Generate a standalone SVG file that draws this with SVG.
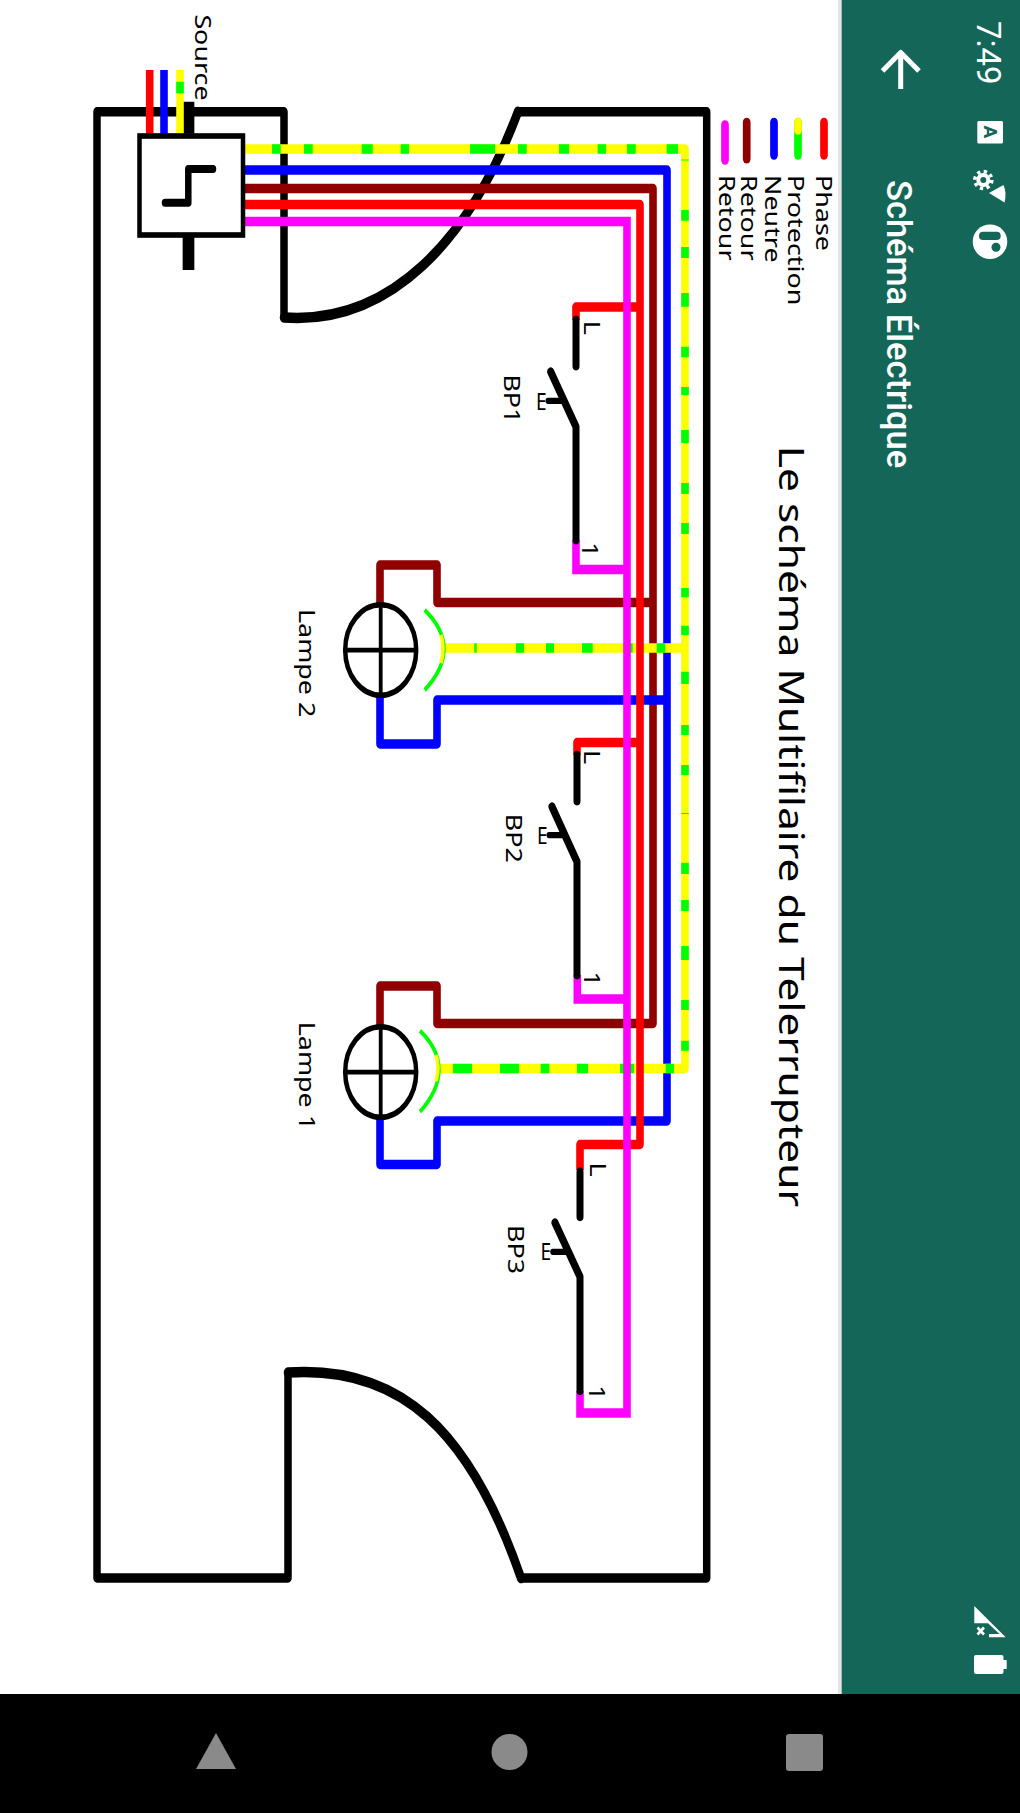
<svg xmlns="http://www.w3.org/2000/svg" width="1020" height="1813" viewBox="0 0 1020 1813">
<style>
text{font-family:"Noto Sans","Open Sans",sans-serif;fill:#000}
.ui{font-family:Roboto,"Noto Sans",sans-serif;fill:#fff}
path{fill:none;stroke-linejoin:round}
.o{stroke:#000;stroke-width:7.5}
.oa{stroke:#000;stroke-width:8.5;stroke-linecap:round}
.w{stroke-width:7.6}
.y{stroke:#ff0}.g{stroke:#0f0}.b{stroke:#00f}.d{stroke:#900000}.r{stroke:#f00}.m{stroke:#f0f;stroke-linejoin:miter}
.s{stroke:#000;stroke-width:7;stroke-linecap:round}
.e{stroke:#000;stroke-width:5;stroke-linecap:round}
.leg{stroke-width:7.7;stroke-linecap:round}
.l{font-size:21.5px}
.lamp{fill:#fff;stroke:#000;stroke-width:4.5}
.x{stroke:#000;stroke-width:3.8}
.arc{stroke-width:3.5}
</style>
<rect width="1020" height="1813" fill="#fff"/>
<g id="chrome">
<rect x="838" y="0" width="4" height="1694" fill="#e4e4e4"/>
<rect x="841.7" y="0" width="178.3" height="1694" fill="#146658"/>
<rect x="0" y="1694" width="1020" height="119" fill="#000"/>
<polygon points="196,1769 236,1769 216,1733" fill="#8a8a8a"/>
<circle cx="509.5" cy="1752" r="18" fill="#8a8a8a"/>
<rect x="786" y="1734" width="37" height="37" rx="3" fill="#8a8a8a"/>
<path d="M900.7 52V89M882.5 71L900.7 52.5L919 71" stroke="#fff" stroke-width="5"/>
<text class="ui" font-size="34.5" font-weight="500" transform="translate(886.5 180) rotate(90)">Schéma Électrique</text>
<text class="ui" font-size="33" transform="translate(976.5 21) rotate(90)">7:49</text>
<rect x="977.3" y="121" width="25.7" height="22.5" rx="1.5" fill="#fff"/>
<text class="ui" font-size="19" font-weight="700" style="fill:#146658" transform="translate(983.5 125.5) rotate(90)">A</text>
<circle cx="983.3" cy="180" r="7" fill="#fff"/>
<circle cx="983.3" cy="180" r="8.5" fill="none" stroke="#fff" stroke-width="3.5" stroke-dasharray="3.3 3.4"/>
<circle cx="983.3" cy="180" r="3" fill="#146658"/>
<path d="M989 193L1003.5 185Q1007 193 1004.5 202.5Z" style="fill:#fff"/>
<circle cx="990" cy="241.7" r="17.3" fill="#fff"/>
<rect x="979" y="231.7" width="21.7" height="8.3" rx="4" fill="#146658"/>
<circle cx="996" cy="247.3" r="4.5" fill="#146658"/>
<polygon points="974.3,1606 1005.7,1637.3 989,1637.3 989,1634 999.5,1634 988,1623.3 974.3,1623.3" fill="#fff"/>
<path d="M977.5 1627.5L984 1634.5M984 1627.5L977.5 1634.5" stroke="#fff" stroke-width="2.6"/>
<rect x="974" y="1655" width="29.5" height="19" rx="2" fill="#fff"/>
<rect x="1003" y="1660" width="3.7" height="9" fill="#fff"/>
</g>
<g id="diagram" transform="scale(1 1.25)">
<g id="outline">
<path class="o" d="M284 254L284 89.4L97 89.4L97 1262.4L288 1262.4L288 1098M521 1262.4L706.7 1262.4L706.7 89.4L518 89.4"/>
<path class="oa" d="M284 254C390 260 470 192 518 89.4M288 1098C400 1092 470 1144 521 1262.4"/>
</g>
<g id="title">
<text font-size="34" transform="translate(779 356.5) rotate(90)">Le schéma Multifilaire du Telerrupteur</text>
</g>
<g id="legend">
<path class="leg m" d="M725 100V128"/>
<path class="leg d" d="M746.7 98V127"/>
<path class="leg b" d="M774 98V124"/>
<path class="leg g" d="M798 98V124"/>
<path class="leg y" d="M798 98V104"/>
<path class="leg r" d="M824 98V124"/>
<text class="l" transform="translate(718.5 140) rotate(90)">Retour</text>
<text class="l" transform="translate(740.5 140) rotate(90)">Retour</text>
<text class="l" transform="translate(765 140) rotate(90)">Neutre</text>
<text class="l" transform="translate(788 140) rotate(90)">Protection</text>
<text class="l" transform="translate(816 140) rotate(90)">Phase</text>
</g>
<g id="connectors">
<path class="w d" d="M245 150.8H653V818.8H437V788.8H380V820.8"/>
<path class="w d" d="M653 482H437V452H380V483.2"/>
<path class="w b" d="M245 136H667V896.8H437V931.6H380V894.4"/>
<path class="w b" d="M667 560H437V595.2H380V556.8"/>
<path class="w y" d="M245 119.2H685V854.8H437"/>
<path class="w y" d="M685 518.4H444"/>
<path class="w g" d="M272 119.2H280.7M304 119.2H312.7M361.7 119.2H372.7M400.7 119.2H409M470 119.2H495M518 119.2H526.7M559 119.2H569M597.7 119.2H606M627 119.2H635.7M666.7 119.2H678"/>
<path class="w g" d="M441.7 518.4H445M474.3 518.4H476.7M516 518.4H524M546 518.4H554M582 518.4H592.7M630 518.4H632.7M656.7 518.4H665.3"/>
<path class="w g" d="M453 854.8H472M500 854.8H519M540.7 854.8H549.3M577 854.8H588M620 854.8H634M665.7 854.8H674"/>
<path class="w g" d="M685 127.6V128.4M685 168V176.6M685 197.6V206.4M685 234.4V245.4M685 277.4V285.6M685 309.6V316M685 344V354.4M685 386.4V395.2M685 418.4V427.2M685 470.4V477.6M685 500.6V508M685 537.4V547.2M685 580V588M685 612V620M685 650.4V651.2M685 690.2V699.2M685 720V728.8M685 756.8V768M685 800V808M685 832.6V840.6"/>
<path class="w r" d="M245 163.6H640V915.6H580V936"/>
<path class="w r" d="M640 245.6H576V256"/>
<path class="w r" d="M640 594H577V604"/>
<path class="w m" d="M245 177.2H627V1130.4H580V1112.6"/>
<path class="w m" d="M627 455.6H576V432"/>
<path class="w m" d="M627 799.2H577.3V780"/>
</g>
<g id="source">
<path d="M188.5 81.4V107M188.5 189.6V216" stroke="#000" stroke-width="11.7"/>
<path class="w r" d="M149.7 56V107"/>
<path class="w b" d="M164 56V107"/>
<path class="w y" d="M180 56V107"/>
<path class="w g" d="M180 65.4V74.6"/>
<rect x="139.5" y="108.8" width="103.5" height="79.2" fill="#fff" stroke="#000" stroke-width="4.5"/>
<path d="M165 162.2H188.3V135.2H213" stroke="#000" stroke-width="6.5" stroke-linecap="round"/>
<text class="l" transform="translate(195 11.5) rotate(90)">Source</text>
</g>
<g id="bp1">
<path class="s" d="M576 256V292.8M550.7 297.4L576 341.4V432"/>
<path class="e" d="M548 320.6H561.7"/>
<text class="l" transform="translate(503.5 299.5) rotate(90)">BP1</text>
<text class="l" transform="translate(584 256.5) rotate(90)">L</text>
<text class="l" transform="translate(582 433.6) rotate(90)">1</text>
<text font-size="19" x="536" y="328">E</text>
</g>
<g id="bp2">
<path class="s" d="M577 604V640.8M552 645.4L577 689.4V780"/>
<path class="e" d="M549 668H562"/>
<text class="l" transform="translate(506 651) rotate(90)">BP2</text>
<text class="l" transform="translate(584 600) rotate(90)">L</text>
<text class="l" transform="translate(584 777) rotate(90)">1</text>
<text font-size="19" x="537" y="675">E</text>
</g>
<g id="bp3">
<path class="s" d="M580 937.4V973.4M555 978.2L580 1021.4V1112.6"/>
<path class="e" d="M552.7 1001.4H566"/>
<text class="l" transform="translate(508 980) rotate(90)">BP3</text>
<text class="l" transform="translate(590 930) rotate(90)">L</text>
<text class="l" transform="translate(589 1108) rotate(90)">1</text>
<text font-size="19" x="540.5" y="1008">E</text>
</g>
<g id="lampe2">
<path class="arc g" d="M424.7 488Q463.3 518.4 424.7 552"/>
<path class="arc y" d="M441 508Q445 518.4 441 530.4"/>
<ellipse class="lamp" cx="380.7" cy="520" rx="35.5" ry="36.2"/>
<path class="x" d="M380.7 483.8V556.2M345.2 520H416.2"/>
<text class="l" transform="translate(298.5 487.2) rotate(90)">Lampe 2</text>
</g>
<g id="lampe1">
<path class="arc g" d="M420 824.6Q458 854.4 420 889.4"/>
<path class="arc y" d="M436 844Q440 854.4 436 864.8"/>
<ellipse class="lamp" cx="380.7" cy="857.6" rx="35.5" ry="36.2"/>
<path class="x" d="M380.7 821.4V893.8M345.2 857.6H416.2"/>
<text class="l" transform="translate(298.5 817.4) rotate(90)">Lampe 1</text>
</g>
</g>
</svg>
